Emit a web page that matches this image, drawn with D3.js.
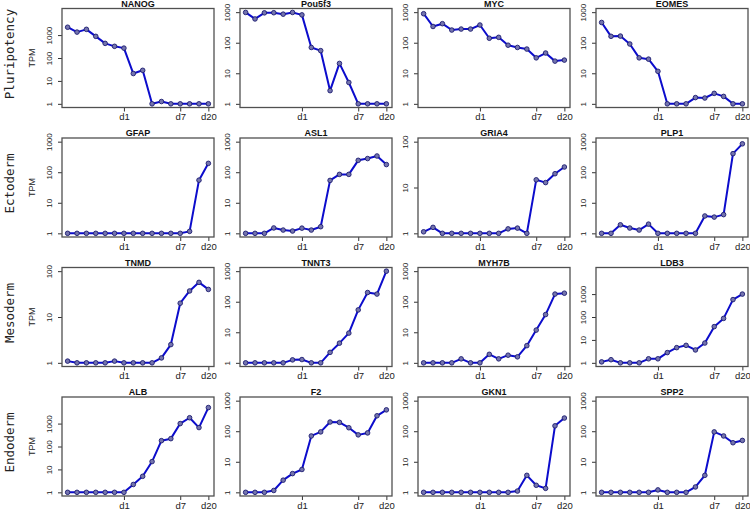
<!DOCTYPE html>
<html>
<head>
<meta charset="utf-8">
<script src="https://cdn.jsdelivr.net/npm/d3@7"></script>
<style>
  html, body { margin: 0; padding: 0; background: #fff; }
  svg { display: block; }
</style>
</head>
<body>
<svg id="chart" width="750" height="512"></svg>
<script>
// ---- data ----
const rowLabels = ["Pluripotency", "Ectoderm", "Mesoderm", "Endoderm"];
const genes = [
  "NANOG", "Pou5f3", "MYC", "EOMES",
  "GFAP", "ASL1", "GRIA4", "PLP1",
  "TNMD", "TNNT3", "MYH7B", "LDB3",
  "ALB", "F2", "GKN1", "SPP2"
];
const timeIndex = d3.range(16);
const xTickIndex = [6, 12, 15];
const xTickLabels = ["d1", "d7", "d20"];
const yTickValues = [1, 10, 100, 1000];
const yAxisTop = [
  10000, 1000, 1000, 1000,
  1000, 1000, 100, 1000,
  100, 1000, 1000, 10000,
  10000, 1000, 1000, 1000
];

const NANOG  = [2200,1350,1780,880,435,323,270,21,29,1,1.26,1,1,1,1,1];
const Pou5f3 = [980,600,950,960,860,980,815,70,55,2.7,21,5,1,1,1,1];
const MYC    = [890,340,420,260,280,280,380,140,150,83,70,62,32,46,25,27];
const EOMES  = [460,162,165,91,32,29,11.6,1,1,1,1.6,1.55,2.2,1.75,1,1];
const GFAP   = [1,1,1,1,1,1,1,1,1,1,1,1,1,1.16,55,195];
const ASL1   = [1,1,1,1.5,1.28,1.19,1.48,1.28,1.65,54,85,85,245,280,340,178];
const GRIA4  = [1.08,1.35,1,1,1,1,1,1,1,1.25,1.3,1,14.7,12.8,20,28];
const PLP1   = [1,1,1.9,1.49,1.28,2.0,1,1,1,1,1,3.7,3.4,4.1,405,850];
const TNMD   = [1.09,1,1,1,1,1.09,1,1,1,1,1.28,2.5,20,37,57,40];
const TNNT3  = [1,1,1,1,1,1.25,1.28,1,1,2.2,4.4,9.4,54,200,178,1000];
const MYH7B  = [1,1,1,1,1.35,1,1,1.9,1.35,1.78,1.57,3.65,11.8,38,178,190];
const LDB3   = [1.1,1.37,1,1,1,1.5,1.5,2.8,4.6,5.8,3.65,7.3,38,87,575,1000];
const ALB    = [1,1,1,1,1,1,1,2.2,5,22,180,220,1000,1800,670,5000];
const F2     = [1,1,1,1.15,2.5,4.1,5.6,70,95,200,195,130,76,88,320,500];
const GKN1   = [1,1,1,1,1,1,1,1,1,1,1.1,3.6,1.7,1.35,150,270];
const SPP2   = [1,1,1,1,1,1,1.2,1,1,1,1.5,3.6,95,70,42,50];

const series = [NANOG, Pou5f3, MYC, EOMES, GFAP, ASL1, GRIA4, PLP1,
                TNMD, TNNT3, MYH7B, LDB3, ALB, F2, GKN1, SPP2];

// ---- layout ----
const svg = d3.select("#chart");
const panelW = 152, panelH = 99;
const colLeft = c => 62 + 178 * c;
const rowTop = r => 8.5 + 129.5 * r;

const lineColor = "#0c0ccc";
const boxColor = "#505050";

// row labels
rowLabels.forEach((lab, r) => {
  const cy = rowTop(r) + panelH / 2 - 4;
  svg.append("text")
    .attr("transform", `translate(9,${cy}) rotate(-90)`)
    .attr("text-anchor", "middle")
    .attr("dominant-baseline", "central")
    .style("font-family", "'DejaVu Sans Mono', monospace")
    .style("font-size", "12.5px")
    .attr("fill", "#222")
    .text(lab);
});

genes.forEach((gene, i) => {
  const r = Math.floor(i / 4), c = i % 4;
  const left = colLeft(c), top = rowTop(r);
  const g = svg.append("g").attr("transform", `translate(${left},${top})`);

  const x = d3.scaleLinear().domain([-0.6, 15.6]).range([0, panelW]);
  const D = Math.log10(yAxisTop[i]);
  const y = d3.scaleLog()
    .domain([Math.pow(10, -0.04 * D), Math.pow(10, D * 1.04)])
    .range([panelH, 0]);

  // y axis
  const ya = g.append("g")
    .call(d3.axisLeft(y)
      .tickValues(yTickValues.filter(v => v <= yAxisTop[i]))
      .tickFormat(d3.format("d"))
      .tickSize(4)
      .tickPadding(0));
  ya.select(".domain").remove();
  ya.selectAll(".tick line").attr("stroke", "#333");
  ya.selectAll(".tick text")
    .attr("x", 0).attr("dy", null)
    .attr("transform", "translate(-13,0) rotate(-90)")
    .attr("text-anchor", "middle")
    .attr("dominant-baseline", "central")
    .style("font-family", "Arial, 'Liberation Sans', sans-serif")
    .style("font-size", "8px")
    .attr("fill", "#222");

  // x axis
  const xa = g.append("g")
    .attr("transform", `translate(0,${panelH})`)
    .call(d3.axisBottom(x)
      .tickValues(xTickIndex)
      .tickFormat((d, k) => xTickLabels[k])
      .tickSize(4)
      .tickPadding(2));
  xa.select(".domain").remove();
  xa.selectAll(".tick line").attr("stroke", "#333");
  xa.selectAll(".tick text")
    .style("font-family", "Arial, 'Liberation Sans', sans-serif")
    .style("font-size", "9.5px")
    .attr("fill", "#222");

  // box
  g.append("rect")
    .attr("x", 0).attr("y", 0)
    .attr("width", panelW).attr("height", panelH)
    .attr("fill", "none")
    .attr("stroke", boxColor)
    .attr("stroke-width", 1.3);

  // title
  g.append("text")
    .attr("x", panelW / 2).attr("y", -1.6)
    .attr("text-anchor", "middle")
    .style("font-family", "Arial, 'Liberation Sans', sans-serif")
    .style("font-weight", "bold")
    .style("font-size", "9px")
    .attr("fill", "#111")
    .text(gene);

  // TPM label
  if (c === 0) {
    g.append("text")
      .attr("transform", `translate(${31.5 - left},${panelH / 2}) rotate(-90)`)
      .attr("text-anchor", "middle")
      .attr("dominant-baseline", "central")
      .style("font-family", "Arial, 'Liberation Sans', sans-serif")
      .style("font-size", "9px")
      .attr("fill", "#222")
      .text("TPM");
  }

  const vals = series[i];
  const line = d3.line().x((d, k) => x(timeIndex[k])).y(d => y(d));
  g.append("path")
    .datum(vals)
    .attr("d", line)
    .attr("fill", "none")
    .attr("stroke", lineColor)
    .attr("stroke-width", 2)
    .attr("stroke-linejoin", "round");

  g.selectAll("circle.pt")
    .data(vals)
    .join("circle")
    .attr("class", "pt")
    .attr("cx", (d, k) => x(timeIndex[k]))
    .attr("cy", d => y(d))
    .attr("r", 2.3)
    .attr("fill", "#7474ae")
    .attr("stroke", "#1c1c70")
    .attr("stroke-width", 0.9);
});
</script>
</body>
</html>
